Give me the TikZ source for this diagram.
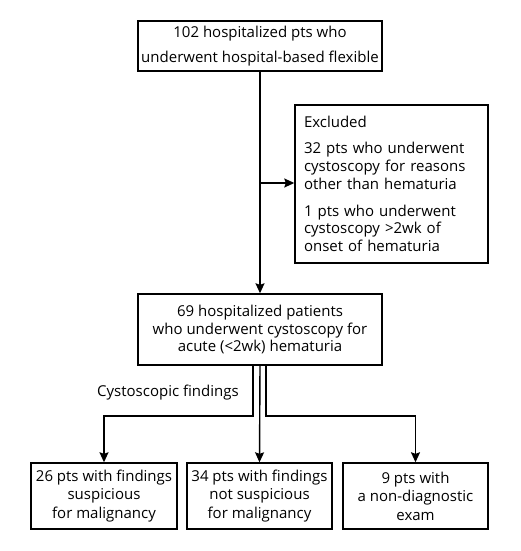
\documentclass[tikz,border=0pt]{standalone}
\usepackage{fontspec}
\setmainfont{Open Sans}
\usetikzlibrary{arrows.meta}
\begin{document}
\begin{tikzpicture}[x=1pt,y=-1pt,
  box/.style={draw, line width=1.4pt, inner sep=0pt, align=center, font=\fontsize{15}{17.8}\selectfont},
  conn/.style={line width=1.4pt},
  arr/.style={conn, -{Stealth[length=10pt,width=9pt,inset=1.5pt]}}]
\useasboundingbox (0,0) rectangle (520,551);
\node[box, minimum width=244pt, minimum height=50pt, font=\fontsize{15}{25}\selectfont] (top) at (260,46) {102 hospitalized pts who\\underwent hospital-based flexible};
\node[box, minimum width=193pt, minimum height=158pt, align=left, text width=175pt] (excl) at (391.5,184) {Excluded\\[8.5pt]32 pts who underwent\\cystoscopy for reasons\\other than hematuria\\[9pt]1 pts who underwent\\cystoscopy >2wk of\\onset of hematuria};
\node[box, minimum width=244pt, minimum height=71pt] (mid) at (260,329.5) {69 hospitalized patients\\who underwent cystoscopy for\\acute (<2wk) hematuria};
\node[box, minimum width=146pt, minimum height=66pt, font=\fontsize{15}{18.5}\selectfont] (b1) at (104,496) {26 pts with findings\\suspicious\\for malignancy};
\node[box, minimum width=145pt, minimum height=66pt, font=\fontsize{15}{18.5}\selectfont] (b2) at (259.5,496) {34 pts with findings\\not suspicious\\for malignancy};
\node[box, minimum width=145pt, minimum height=66pt, font=\fontsize{15}{18.5}\selectfont] (b3) at (415.5,496) {9 pts with\\a non-diagnostic\\exam};
\node[anchor=west, inner sep=0pt, font=\fontsize{15}{18}\selectfont] (lab) at (97,393) {Cystoscopic findings};
\draw[arr] (top.south) -- (mid.north);
\coordinate (br) at (260,183);
\draw[arr] (br) -- (excl.west |- br);
\coordinate (l1) at (253,365);
\coordinate (l2) at (253,416);
\coordinate (r1) at (266,365);
\coordinate (r2) at (266,416);
\draw[arr] (l1) -- (l2) -- (b1.north |- l2) -- (b1.north);
\draw[arr] (mid.south) -- (b2.north);
\draw[arr] (r1) -- (r2) -- (b3.north |- r2) -- (b3.north);
\end{tikzpicture}
\end{document}
